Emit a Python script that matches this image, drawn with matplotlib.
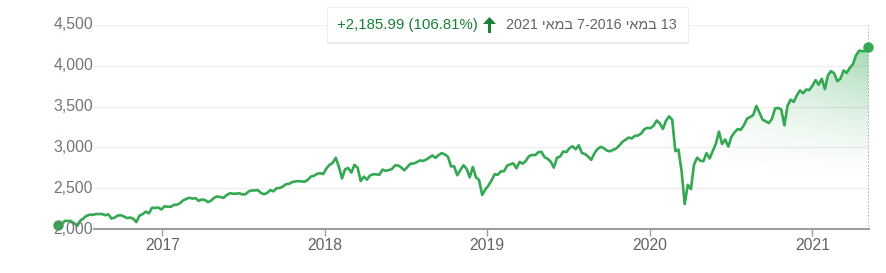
import numpy as np
import pandas as pd
import matplotlib
matplotlib.use("Agg")
import matplotlib.pyplot as plt
import matplotlib.dates as mdates
import matplotlib.transforms as mtrans
from matplotlib.patches import FancyBboxPatch, Polygon

plt.rcParams['font.family'] = ['Liberation Sans', 'DejaVu Sans']

# ---- data: weekly closes, 13 May 2016 .. 7 May 2021 ----
start_date = "2016-05-13"
v2016 = [2046.61, 2052.32, 2099.06, 2099.13, 2096.07, 2071.22, 2037.41, 2102.95, 2129.90,
         2161.74, 2175.03, 2173.60, 2182.87, 2184.05, 2183.87, 2169.04, 2179.98, 2127.81,
         2139.16, 2164.69, 2168.27, 2153.74, 2132.98, 2141.16, 2126.41, 2085.18, 2164.45,
         2181.90, 2213.35, 2191.95, 2259.53, 2258.07, 2263.79, 2238.83]
v2017 = [2276.98, 2274.64, 2271.31, 2294.69, 2297.42, 2316.10, 2351.16, 2367.34, 2383.12,
         2372.60, 2378.25, 2343.98, 2362.72, 2355.54, 2328.95, 2348.69, 2384.20, 2399.29,
         2390.90, 2381.73, 2415.82, 2439.07, 2431.77, 2433.15, 2438.30, 2423.41, 2425.18,
         2459.27, 2472.54, 2472.10, 2476.83, 2441.32, 2425.55, 2443.05, 2476.55, 2461.43,
         2500.23, 2502.22, 2519.36, 2549.33, 2553.17, 2575.21, 2581.07, 2587.84, 2582.30,
         2578.85, 2602.42, 2642.22, 2651.50, 2675.81, 2683.34, 2673.61]
v2018 = [2743.15, 2786.24, 2810.30, 2872.87, 2762.13, 2619.55, 2732.22, 2747.30, 2691.25,
         2786.57, 2752.01, 2588.26, 2640.87, 2604.47, 2656.30, 2670.14, 2669.91, 2663.42,
         2727.72, 2712.97, 2721.33, 2734.62, 2779.03, 2779.66, 2754.88, 2718.37, 2759.82,
         2801.31, 2801.83, 2818.82, 2840.35, 2833.28, 2850.13, 2874.69, 2901.52, 2871.68,
         2904.98, 2929.67, 2913.98, 2885.57, 2767.13, 2767.78, 2658.69, 2723.06, 2781.01,
         2736.27, 2632.56, 2760.17, 2633.08, 2599.95, 2416.62, 2485.74]
v2019 = [2531.94, 2596.26, 2670.71, 2664.76, 2706.53, 2707.88, 2775.60, 2792.67, 2803.69,
         2743.07, 2822.48, 2800.71, 2834.40, 2892.74, 2907.41, 2905.03, 2939.88, 2945.64,
         2881.40, 2859.53, 2826.06, 2752.06, 2873.34, 2886.98, 2950.46, 2941.76, 2990.41,
         3013.77, 2976.61, 3025.86, 2932.05, 2918.65, 2888.68, 2847.11, 2926.46, 2978.71,
         3007.39, 2992.07, 2961.79, 2952.01, 2970.27, 2986.20, 3022.55, 3066.91, 3093.08,
         3120.46, 3110.29, 3140.98, 3145.91, 3168.80, 3221.22, 3240.02]
v2020 = [3234.85, 3265.35, 3329.62, 3295.47, 3225.52, 3327.71, 3380.16, 3337.75, 2954.22,
         2972.37, 2711.02, 2304.92, 2541.47, 2488.65, 2789.82, 2874.56, 2836.74, 2830.71,
         2929.80, 2863.70, 2955.45, 3044.31, 3193.93, 3041.31, 3097.74, 3009.05, 3130.01,
         3185.04, 3224.73, 3215.63, 3271.12, 3351.28, 3372.85, 3397.16, 3508.01, 3426.96,
         3340.97, 3319.47, 3298.46, 3348.44, 3477.13, 3483.81, 3465.39, 3269.96, 3509.44,
         3585.15, 3557.54, 3638.35, 3699.12, 3663.46, 3709.41, 3703.06, 3756.07]
v2021 = [3824.68, 3768.25, 3841.47, 3714.24, 3886.83, 3934.83, 3906.71, 3811.15, 3841.94,
         3943.34, 3913.10, 3974.54, 4019.87, 4128.80, 4185.47, 4180.17, 4181.17, 4232.60]
values = np.array(v2016 + v2017 + v2018 + v2019 + v2020 + v2021)
dates = pd.date_range(start_date, periods=len(values), freq="7D")

y_ticks = [2000, 2500, 3000, 3500, 4000, 4500]
y_labels = ["2,000", "2,500", "3,000", "3,500", "4,000", "4,500"]
x_ticks = ["2017-01-01", "2018-01-01", "2019-01-01", "2020-01-01", "2021-01-01"]
x_labels = ["2017", "2018", "2019", "2020", "2021"]

change_text = "+2,185.99 (106.81%)"
# Hebrew written in visual (left-to-right) order for matplotlib
range_text = "2021 " + "במאי"[::-1] + " 7-2016 " + "במאי"[::-1] + " 13"

GREEN = "#34A853"
W, H = 886, 273
fig = plt.figure(figsize=(W / 100, H / 100), dpi=100)
fig.patch.set_facecolor("white")

x0px, x1px = 58.5, 868.5
ytop, ybot = 25, 229
ax = fig.add_axes([x0px / W, (H - ybot) / H, (x1px - x0px) / W, (ybot - ytop) / H])
ax.axis("off")
ax.patch.set_alpha(0)

xnum = mdates.date2num(dates)
axis_start_frac = (94 - x0px) / (x1px - x0px)
vpp = 2500 / (ybot - ytop)    # value per pixel

# grid lines
for yv in y_ticks[1:]:
    ax.axhline(yv, xmin=axis_start_frac, xmax=1, color="#efefef", lw=1.0, zorder=1)
# bottom axis line
ax.axhline(2000, xmin=axis_start_frac, xmax=1, color="#9e9e9e", lw=1.5, zorder=4, clip_on=False)
# dotted verticals
ax.plot([xnum[0], xnum[0]], [2000, 4500], ls=(0, (1, 2)), color="#9e9e9e", lw=0.8, zorder=2)
ax.plot([xnum[-1], xnum[-1]], [2000, 4500], ls=(0, (1, 2)), color="#9e9e9e", lw=0.8, zorder=2)

# gradient fill under line
nx, ny = 400, 300
gx = np.linspace(xnum[0], xnum[-1], nx)
gy = np.linspace(2000, 4500, ny)
GX, GY = np.meshgrid(gx, gy)
xs = mdates.date2num(pd.Timestamp("2019-08-01"))
tx = np.clip((GX - xs) / (xnum[-1] - xs), 0, 1)
ty = np.clip((GY - 2650) / (4250 - 2650), 0, 1)
alpha = 0.45 * tx ** 1.4 * ty ** 1.3
rgba = np.zeros((ny, nx, 4))
rgba[..., 0] = 0x34 / 255
rgba[..., 1] = 0xA8 / 255
rgba[..., 2] = 0x53 / 255
rgba[..., 3] = alpha
im = ax.imshow(rgba, extent=[xnum[0], xnum[-1], 2000, 4500], origin="lower",
               aspect="auto", zorder=2, interpolation="bilinear")
poly = ax.fill_between(dates, values, 2000, color="none", lw=0)
im.set_clip_path(poly.get_paths()[0], transform=ax.transData)
ax.set_xlim(dates[0], dates[-1])
ax.set_ylim(2000, 4500)

# line
ax.plot(dates, values, color=GREEN, lw=1.9, zorder=5, solid_joinstyle="round")
ax.plot([dates[0], dates[-1]], [values[0], values[-1]], "o", color=GREEN, ms=7.5, zorder=6,
        clip_on=False, mec="none")

# x ticks
for t, lab in zip(x_ticks, x_labels):
    xv = mdates.date2num(pd.Timestamp(t))
    ax.vlines(xv, 2000 - 7 * vpp, 2000, color="#9e9e9e", lw=1.0, clip_on=False, zorder=4)
    ax.text(xv, 2000 - 17 * vpp, lab, ha="center", va="center", fontsize=11.3,
            color="#5f6368", clip_on=False)

# y tick labels
blend = mtrans.blended_transform_factory(fig.transFigure, ax.transData)
for yv, lab in zip(y_ticks, y_labels):
    ax.text(93 / W, yv, lab, transform=blend, ha="right", va="center", fontsize=11.3,
            color="#70757a", zorder=7)

# tooltip box
bx0, bx1, by0, by1 = 327, 688, 7, 42
shadow = FancyBboxPatch((bx0, H - by1 - 2), bx1 - bx0 + 1, by1 - by0,
                        boxstyle="square,pad=0", transform=None, fc="#e6e6e6", ec="none")
fig.patches.append(shadow)
box = FancyBboxPatch((bx0, H - by1), bx1 - bx0, by1 - by0, boxstyle="square,pad=0",
                     transform=None, fc="white", ec="#eeeeee", lw=0.8)
fig.patches.append(box)
ty_txt = (H - 25) / H
fig.text(337 / W, ty_txt, change_text, ha="left", va="center", fontsize=10.8, color="#188038")
fig.text(677 / W, ty_txt, range_text, ha="right", va="center", fontsize=10.3, color="#5f6368")
# arrow
fig.patches.append(FancyBboxPatch((488, H - 33), 3, 10, boxstyle="square,pad=0",
                                  transform=None, fc="#188038", ec="none"))
fig.patches.append(Polygon([[483, H - 24], [496, H - 24], [489.5, H - 17]], closed=True,
                           transform=None, fc="#188038", ec="none"))

fig.savefig("out.png", dpi=100)
